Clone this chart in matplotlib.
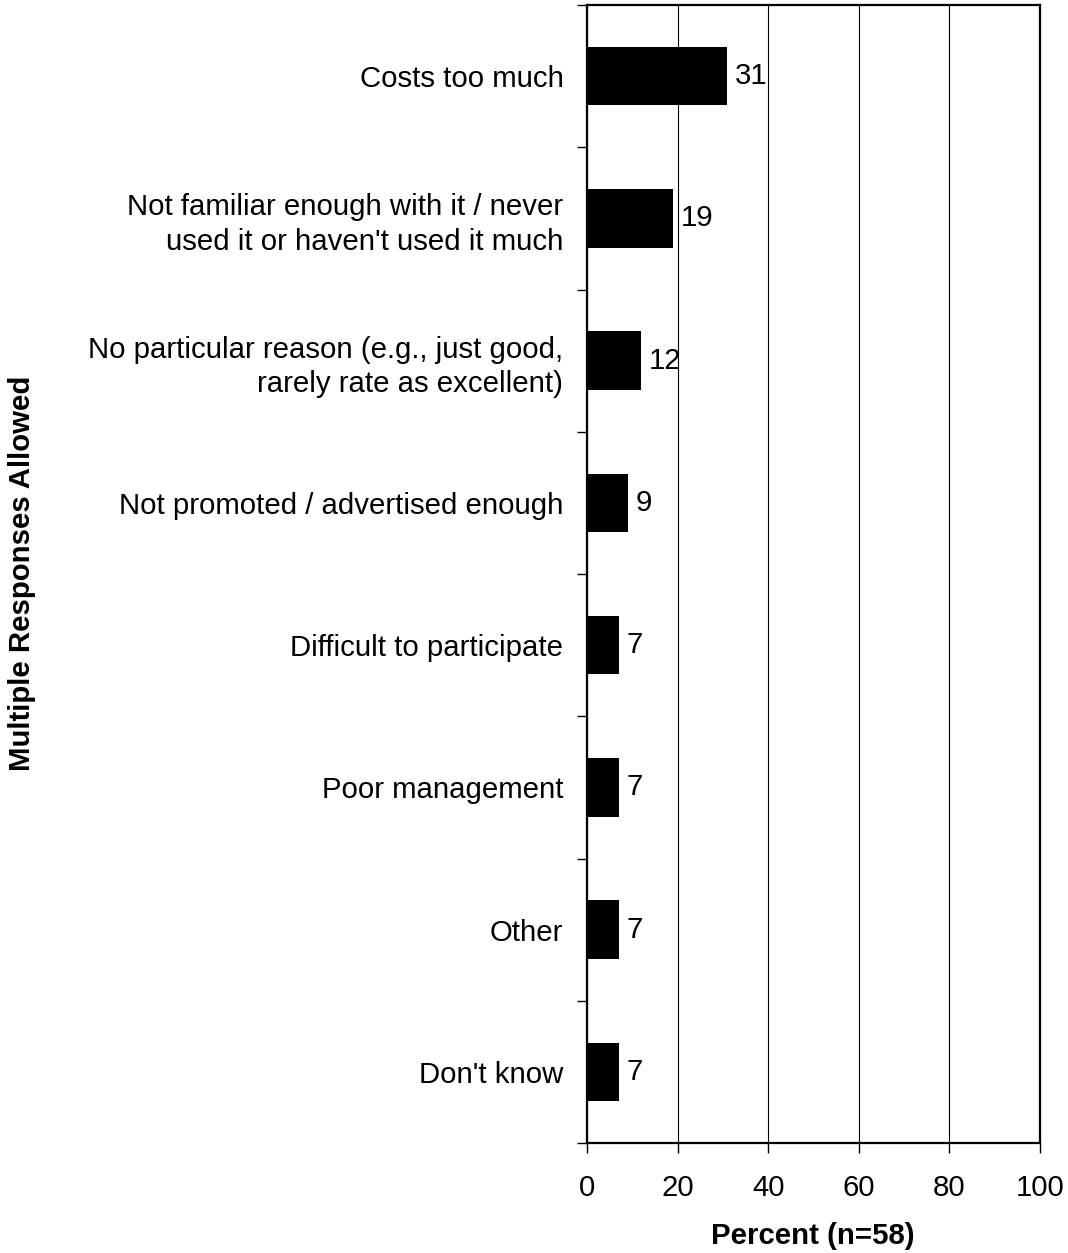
import matplotlib
matplotlib.use("Agg")
import matplotlib.pyplot as plt
import numpy as np

categories = [
    "Costs too much",
    "Not familiar enough with it / never\nused it or haven't used it much",
    "No particular reason (e.g., just good,\nrarely rate as excellent)",
    "Not promoted / advertised enough",
    "Difficult to participate",
    "Poor management",
    "Other",
    "Don't know",
]
values = [31, 19, 12, 9, 7, 7, 7, 7]
xticks = [0, 20, 40, 60, 80, 100]

plt.rcParams['font.family'] = ['Liberation Sans', 'DejaVu Sans']
FS = 21.2

fig = plt.figure(figsize=(10.68, 12.53), dpi=100)
ax = fig.add_axes([587/1068, 1 - 1143/1253, (1040-587)/1068, (1143-5)/1253])

n = len(categories)
y = np.arange(n)
ax.barh(y, values, height=0.41, color='black', zorder=3)
ax.set_ylim(n - 0.5, -0.5)
ax.set_xlim(0, 100)

for yi, v in zip(y, values):
    ax.text(v + 1.7, yi, str(v), va='center', ha='left', fontsize=FS, zorder=4)

ax.set_yticks(y)
ax.set_yticklabels(categories, fontsize=FS, linespacing=1.31)
ax.tick_params(axis='y', which='major', length=0, pad=17)
ax.set_yticks(np.arange(-0.5, n, 1.0), minor=True)
ax.tick_params(axis='y', which='minor', length=7, width=1, direction='out')

ax.set_xticks(xticks)
ax.set_xticklabels([str(t) for t in xticks], fontsize=FS)
ax.tick_params(axis='x', length=7, width=1, direction='out', pad=15)
ax.xaxis.grid(True, color='black', linewidth=0.8, zorder=0)

for s in ax.spines.values():
    s.set_linewidth(1.6)
    s.set_color('black')

fig.text(22/1068, 1 - 573/1253, "Multiple Responses Allowed", rotation=90,
         ha='center', va='center', fontsize=FS, fontweight='bold')
fig.text(813/1068, 1 - 1236/1253, "Percent (n=58)", ha='center', va='center',
         fontsize=FS, fontweight='bold')

fig.savefig("out.png", dpi=100)
